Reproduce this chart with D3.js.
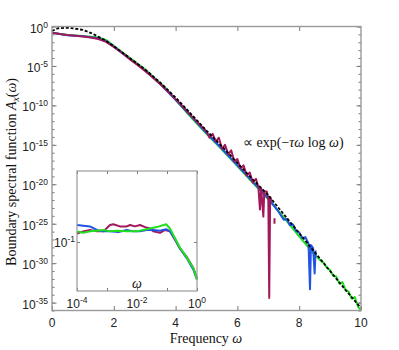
<!DOCTYPE html>
<html>
<head>
<meta charset="utf-8">
<script src="https://cdn.jsdelivr.net/npm/d3@7"></script>
<style>
  body { margin: 0; background: #fff; }
  svg { display: block; }
  .tick-lbl { font-family: "Liberation Sans", Arial, sans-serif; font-size: 12px; fill: #222; }
  .title { font-family: "Liberation Serif", "Times New Roman", serif; font-size: 14px; fill: #111; }
</style>
</head>
<body>
<svg id="chart" width="399" height="350"></svg>
<script>
// main plot: frequency ω vs log10 A(ω)
const blackW    = [0, 0.2, 0.47, 0.7, 1.0, 1.25, 1.5, 1.75, 2.0, 2.5, 3.0, 3.5, 4.0, 4.5, 5.0, 5.5, 6.0, 6.5, 7.0, 7.5, 8.0, 8.5, 9.0, 9.5, 10];
const blackLogA = [-0.57, -0.22, -0.15, -0.25, -0.44, -0.8, -1.3, -1.8, -2.5, -3.95, -5.4, -7.1, -9.0, -11.1, -13.2, -15.2, -17.3, -19.4, -21.4, -23.8, -26.2, -28.6, -31.0, -33.4, -35.7];

const magentaW    = [0, 0.25, 0.5, 0.75, 1.0, 1.25, 1.5, 1.75, 2.0, 2.25, 2.5, 2.75, 3.0, 3.25, 3.5, 3.75, 4.0, 4.25, 4.5, 4.75, 5.0,
                     5.1, 5.2, 5.3, 5.4, 5.5, 5.6, 5.7, 5.8, 5.9, 6.0, 6.1, 6.2, 6.3, 6.4, 6.5, 6.6, 6.68, 6.73, 6.77, 6.84, 6.87, 6.95, 7.0, 7.03, 7.06, 7.1];
const magentaLogA = [-0.78, -0.95, -1.08, -1.17, -1.27, -1.4, -1.58, -1.95, -2.6, -3.3, -4.1, -4.8, -5.6, -6.4, -7.3, -8.2, -9.2, -10.2, -11.3, -12.3, -13.3,
                     -14.1, -13.6, -14.6, -14.1, -15.5, -15.0, -16.2, -15.7, -17.1, -16.8, -18.0, -17.6, -18.9, -18.5, -19.8, -19.3, -20.4, -23.2, -20.5, -24.1, -20.9, -20.9, -21.7, -34.4, -21.6, -22.1];
const magentaBitW    = [7.2, 7.2];
const magentaBitLogA = [-24.3, -25.0];

const blueW    = [0, 0.5, 1.0, 1.5, 1.75, 2.0, 2.5, 3.0, 3.5, 4.0, 4.5, 5.0, 5.5, 6.0, 6.5, 7.0, 7.3, 7.4, 7.5, 7.6, 7.7, 7.8, 7.9, 8.0, 8.1, 8.2, 8.3, 8.35, 8.38, 8.45, 8.5, 8.53];
const blueLogA = [-0.8, -1.1, -1.24, -1.5, -1.85, -2.55, -4.05, -5.55, -7.3, -9.3, -11.4, -13.5, -15.5, -17.6, -19.7, -21.8, -23.3, -23.9, -24.5, -24.4, -25.2, -25.1, -25.9, -26.1, -26.8, -26.7, -27.5, -33.3, -27.7, -28.1, -31.3, -28.4];

const greenW    = [0, 0.5, 1.0, 1.5, 1.75, 2.0, 2.5, 3.0, 3.5, 3.7, 4.0, 4.5, 5.0, 5.5, 6.0, 6.5, 7.0, 7.5, 8.0, 8.5, 8.6, 8.7, 8.8, 8.9, 9.0, 9.1, 9.2, 9.3, 9.4, 9.5, 9.6, 9.7, 9.8, 9.9, 10];
const greenLogA = [-0.8, -1.08, -1.2, -1.4, -1.72, -2.45, -3.95, -5.4, -7.15, -7.9, -9.3, -11.5, -13.6, -15.6, -17.7, -19.8, -21.9, -24.2, -26.6, -28.9, -29.3, -29.7, -30.0, -30.6, -30.9, -31.6, -31.7, -32.6, -32.4, -33.4, -33.6, -34.5, -34.3, -35.5, -36.0];

// inset: log10 ω vs log10 A(ω)
const insetMagentaLogW = [-4.0, -3.79, -3.57, -3.34, -3.12, -2.9, -2.79, -2.57, -2.34, -2.23, -2.07, -1.9, -1.73, -1.57, -1.46, -1.23, -1.07, -0.9, -0.73, -0.57, -0.34, -0.12, 0];
const insetMagentaLogA = [-0.88, -0.85, -0.83, -0.85, -0.85, -0.76, -0.75, -0.78, -0.78, -0.76, -0.78, -0.76, -0.79, -0.81, -0.85, -0.87, -0.83, -0.85, -0.97, -1.09, -1.21, -1.37, -1.51];
const insetBlueLogW = [-4.0, -3.79, -3.57, -3.34, -3.12, -2.9, -2.62, -2.34, -2.12, -1.9, -1.68, -1.46, -1.23, -1.03, -0.9, -0.73, -0.57, -0.34, -0.12, 0];
const insetBlueLogA = [-0.76, -0.77, -0.78, -0.83, -0.85, -0.85, -0.86, -0.83, -0.85, -0.85, -0.83, -0.83, -0.84, -0.82, -0.85, -0.96, -1.09, -1.23, -1.39, -1.53];
const insetGreenLogW = [-4.0, -3.79, -3.57, -3.34, -3.12, -2.9, -2.68, -2.34, -2.01, -1.68, -1.34, -1.03, -0.9, -0.73, -0.57, -0.34, -0.12, 0];
const insetGreenLogA = [-0.85, -0.87, -0.85, -0.84, -0.83, -0.85, -0.84, -0.85, -0.85, -0.82, -0.79, -0.75, -0.81, -0.95, -1.08, -1.22, -1.37, -1.53];

const xTicks = [0, 2, 4, 6, 8, 10];
const yMajor = [0, -5, -10, -15, -20, -25, -30, -35];

const colMagenta = '#a2185b', colBlue = '#2053e6', colGreen = '#1ee01e';
const frameCol = '#9a9a9a';

const svg = d3.select('#chart');

const x = d3.scaleLinear().domain([0, 10]).range([52, 361]);
const y = d3.scaleLog().domain([1e-36, 1]).range([310.5, 26.5]);

const zip = (ws, ls) => ws.map((w, i) => [w, ls[i]]);
const line = d3.line().x(d => x(d[0])).y(d => y(Math.pow(10, d[1])));

// curves
const series = [
  { pts: zip(greenW, greenLogA), col: colGreen },
  { pts: zip(blueW, blueLogA), col: colBlue },
  { pts: zip(magentaW, magentaLogA), col: colMagenta },
  { pts: zip(magentaBitW, magentaBitLogA), col: colMagenta }
];
svg.append('g').selectAll('path')
  .data(series)
  .join('path')
  .attr('d', d => line(d.pts))
  .attr('fill', 'none')
  .attr('stroke', d => d.col)
  .attr('stroke-width', 2)
  .attr('stroke-linejoin', 'round');

svg.append('path')
  .attr('d', line(zip(blackW, blackLogA)))
  .attr('fill', 'none')
  .attr('stroke', '#000')
  .attr('stroke-width', 1.8)
  .attr('stroke-dasharray', '3,1.8');

// frame + ticks
const yDecades = d3.range(0, -37, -1);
const axG = svg.append('g');
const addAxis = (ax, tr) => axG.append('g').attr('transform', tr).call(ax)
  .call(g => g.select('.domain').remove())
  .call(g => g.selectAll('line').attr('stroke', '#777'))
  .call(g => g.selectAll('text').remove());

addAxis(d3.axisLeft(y).tickValues(yDecades.map(e => Math.pow(10, e))).tickSize(-2.5), 'translate(52,0)');
addAxis(d3.axisLeft(y).tickValues(yMajor.map(e => Math.pow(10, e))).tickSize(-4.5), 'translate(52,0)');
addAxis(d3.axisRight(y).tickValues(yDecades.map(e => Math.pow(10, e))).tickSize(-2.5), 'translate(361,0)');
addAxis(d3.axisRight(y).tickValues(yMajor.map(e => Math.pow(10, e))).tickSize(-4.5), 'translate(361,0)');
addAxis(d3.axisBottom(x).tickValues(xTicks).tickSize(-4.5), 'translate(0,310.5)');
addAxis(d3.axisTop(x).tickValues(xTicks.slice(1, -1)).tickSize(-4.5), 'translate(0,26.5)');

svg.append('rect')
  .attr('x', 52).attr('y', 26.5)
  .attr('width', 309).attr('height', 284)
  .attr('fill', 'none').attr('stroke', frameCol).attr('stroke-width', 1.4);

// tick labels
svg.append('g').selectAll('text')
  .data(xTicks)
  .join('text')
  .attr('class', 'tick-lbl')
  .attr('x', d => x(d)).attr('y', 327)
  .attr('text-anchor', 'middle')
  .text(d => d);

const powLabel = (g, base, exp) => {
  g.append('tspan').text(base);
  g.append('tspan').attr('dy', -5).attr('font-size', 8.5).text(exp);
};
svg.append('g').selectAll('text')
  .data(yMajor)
  .join('text')
  .attr('class', 'tick-lbl')
  .attr('x', 48).attr('y', d => y(Math.pow(10, d)) + 6)
  .attr('text-anchor', 'end')
  .each(function (d) { powLabel(d3.select(this), '10', d); });

// axis titles
svg.append('text')
  .attr('class', 'title')
  .attr('x', 206).attr('y', 343)
  .attr('text-anchor', 'middle')
  .call(t => {
    t.append('tspan').text('Frequency ');
    t.append('tspan').attr('font-style', 'italic').text('ω');
  });

svg.append('text')
  .attr('class', 'title')
  .attr('transform', 'translate(16,172) rotate(-90)')
  .attr('text-anchor', 'middle')
  .call(t => {
    t.append('tspan').text('Boundary spectral function ');
    t.append('tspan').attr('font-style', 'italic').text('A');
    t.append('tspan').attr('font-style', 'italic').attr('font-size', 9.5).attr('dy', 3).text('x');
    t.append('tspan').attr('dy', -3).text('(');
    t.append('tspan').attr('font-style', 'italic').text('ω');
    t.append('tspan').text(')');
  });

// annotation
svg.append('text')
  .attr('class', 'title')
  .attr('font-size', 12)
  .attr('x', 243).attr('y', 147)
  .call(t => {
    t.append('tspan').text('∝ exp(−');
    t.append('tspan').attr('font-style', 'italic').text('τω');
    t.append('tspan').text(' log ');
    t.append('tspan').attr('font-style', 'italic').text('ω');
    t.append('tspan').text(')');
  });

// inset
const ix = d3.scaleLog().domain([1e-4, 1]).range([77, 197]);
const iy = d3.scaleLog().domain([Math.pow(10, -1.69), 1]).range([291, 171]);
const inset = svg.append('g');
inset.append('rect')
  .attr('x', 77).attr('y', 171).attr('width', 120).attr('height', 120)
  .attr('fill', '#fff');

const iline = d3.line().x(d => ix(Math.pow(10, d[0]))).y(d => iy(Math.pow(10, d[1])));
const insetSeries = [
  { pts: zip(insetMagentaLogW, insetMagentaLogA), col: colMagenta },
  { pts: zip(insetBlueLogW, insetBlueLogA), col: colBlue },
  { pts: zip(insetGreenLogW, insetGreenLogA), col: colGreen }
];
inset.append('g').selectAll('path')
  .data(insetSeries)
  .join('path')
  .attr('d', d => iline(d.pts))
  .attr('fill', 'none')
  .attr('stroke', d => d.col)
  .attr('stroke-width', 2)
  .attr('stroke-linejoin', 'round');

const iDec = [1e-4, 1e-3, 1e-2, 1e-1, 1];
const addInsetAxis = (ax, tr) => inset.append('g').attr('transform', tr).call(ax)
  .call(g => g.select('.domain').remove())
  .call(g => g.selectAll('line').attr('stroke', '#777'))
  .call(g => g.selectAll('text').remove());
addInsetAxis(d3.axisBottom(ix).tickValues(iDec).tickSize(-3), 'translate(0,291)');
addInsetAxis(d3.axisTop(ix).tickValues(iDec).tickSize(-3), 'translate(0,171)');
addInsetAxis(d3.axisLeft(iy).tickValues([0.1]).tickSize(-3), 'translate(77,0)');
addInsetAxis(d3.axisRight(iy).tickValues([0.1]).tickSize(-3), 'translate(197,0)');

inset.append('rect')
  .attr('x', 77).attr('y', 171).attr('width', 120).attr('height', 120)
  .attr('fill', 'none').attr('stroke', frameCol).attr('stroke-width', 1.2);

inset.append('g').selectAll('text')
  .data([[1e-4, -4], [1e-2, -2], [1, 0]])
  .join('text')
  .attr('class', 'tick-lbl')
  .attr('x', d => ix(d[0])).attr('y', 308)
  .attr('text-anchor', 'middle')
  .each(function (d) { powLabel(d3.select(this), '10', d[1]); });

inset.append('text')
  .attr('class', 'tick-lbl')
  .attr('x', 75).attr('y', iy(0.1) + 5)
  .attr('text-anchor', 'end')
  .call(t => powLabel(t, '10', -1));

inset.append('text')
  .attr('class', 'title')
  .attr('font-size', 12)
  .attr('font-style', 'italic')
  .attr('x', 137).attr('y', 288)
  .attr('text-anchor', 'middle')
  .text('ω');
</script>
</body>
</html>
